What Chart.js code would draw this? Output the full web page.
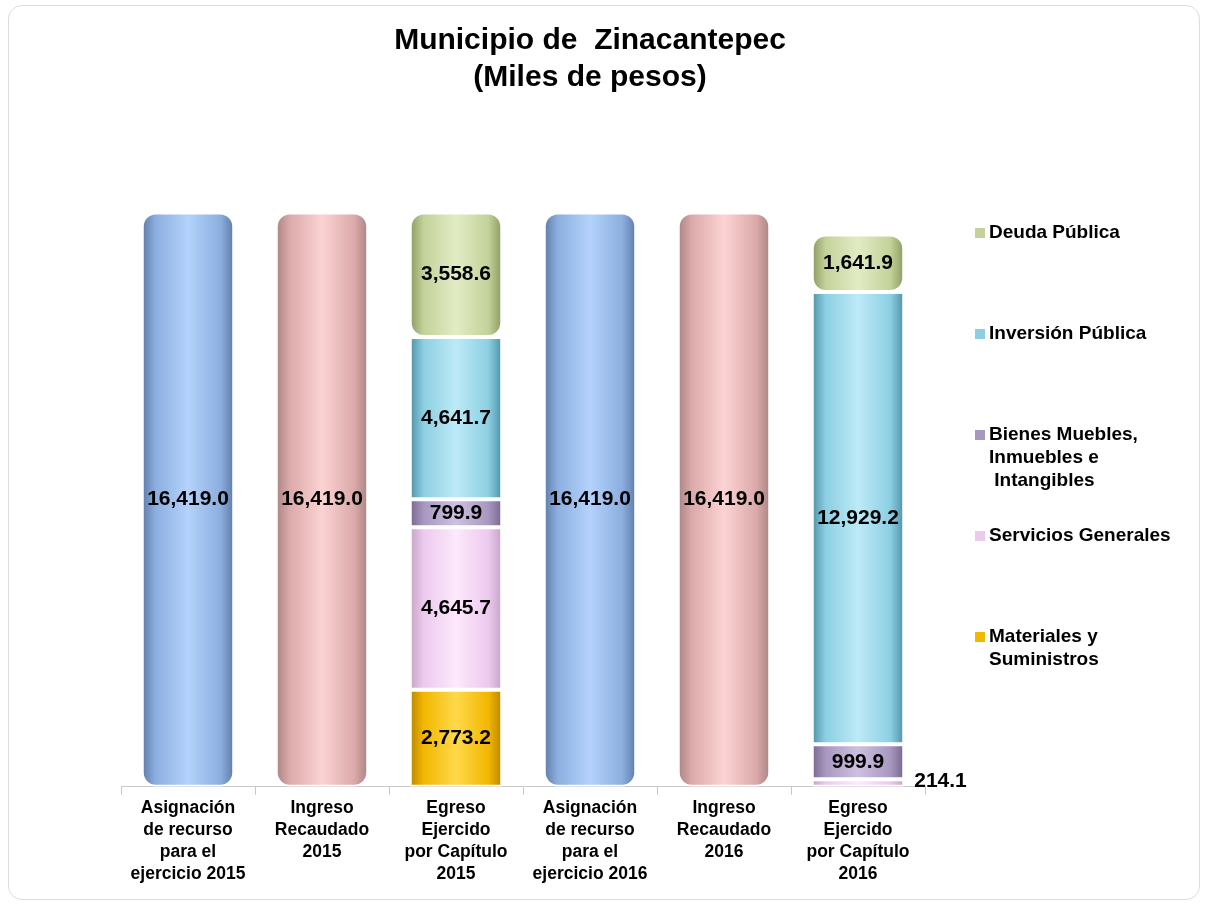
<!DOCTYPE html>
<html>
<head>
<meta charset="utf-8">
<script src="https://cdn.jsdelivr.net/npm/chart.js@4/dist/chart.umd.min.js"></script>
<style>
  body { margin: 0; background: #fff; }
  #box {
    position: absolute; left: 8px; top: 5px;
    width: 1192px; height: 895px;
    border: 1px solid #dcdcdc; border-radius: 14px;
    box-sizing: border-box; overflow: hidden;
  }
</style>
</head>
<body>
<div id="box"><canvas id="zina"></canvas></div>
<script>
const categories = [
  ['Asignación', 'de recurso', 'para el', 'ejercicio 2015'],
  ['Ingreso', 'Recaudado', '2015'],
  ['Egreso', 'Ejercido', 'por Capítulo', '2015'],
  ['Asignación', 'de recurso', 'para el', 'ejercicio 2016'],
  ['Ingreso', 'Recaudado', '2016'],
  ['Egreso', 'Ejercido', 'por Capítulo', '2016']
];

const asignacion = [16419.0, null, null, 16419.0, null, null];
const ingreso = [null, 16419.0, null, null, 16419.0, null];
const materiales = [null, null, 2773.2, null, null, 0];
const servicios = [null, null, 4645.7, null, null, 214.1];
const bienes = [null, null, 799.9, null, null, 999.9];
const inversion = [null, null, 4641.7, null, null, 12929.2];
const deuda = [null, null, 3558.6, null, null, 1641.9];

// legend entries, top to bottom
const legendLines = [
  ['Deuda Pública'],
  ['Inversión Pública'],
  ['Bienes Muebles,', 'Inmuebles e', ' Intangibles'],
  ['Servicios Generales'],
  ['Materiales y', 'Suministros']
];

const BAR_PCT = 0.69;

// horizontal gradient so the bars look like cylinders
function cyl(edge, mid, light) {
  return (ctx) => {
    const chart = ctx.chart;
    const xs = chart.scales.x;
    if (ctx.type !== 'data' || !xs || !chart.chartArea) return mid;
    const cx = xs.getPixelForValue(ctx.dataIndex);
    const w = xs.width / categories.length * BAR_PCT;
    const g = chart.ctx.createLinearGradient(cx - w / 2, 0, cx + w / 2, 0);
    g.addColorStop(0, edge);
    g.addColorStop(0.15, mid);
    g.addColorStop(0.5, light);
    g.addColorStop(0.85, mid);
    g.addColorStop(1, edge);
    return g;
  };
}

function fmt(v) {
  return v.toLocaleString('en-US', { minimumFractionDigits: 1, maximumFractionDigits: 1 });
}

const valueLabels = {
  id: 'valueLabels',
  afterDatasetsDraw(chart) {
    const c = chart.ctx;
    c.save();
    c.font = 'bold 21px "Liberation Sans", Arial, sans-serif';
    c.fillStyle = '#000';
    c.textBaseline = 'middle';
    chart.data.datasets.forEach((ds, di) => {
      const meta = chart.getDatasetMeta(di);
      meta.data.forEach((el, i) => {
        const v = ds.data[i];
        if (v == null || v === 0) return;
        const h = Math.abs(el.base - el.y);
        const y = (el.y + el.base) / 2;
        if (h < 18) {
          c.textAlign = 'left';
          c.fillText(fmt(v), el.x + el.width / 2 + 10, y - 2);
        } else {
          c.textAlign = 'center';
          c.fillText(fmt(v), el.x, y);
        }
      });
    });
    c.restore();
  }
};

const sideLegend = {
  id: 'sideLegend',
  afterDraw(chart) {
    const c = chart.ctx;
    const order = [6, 5, 4, 3, 2];
    c.save();
    c.font = 'bold 19px "Liberation Sans", Arial, sans-serif';
    c.textBaseline = 'middle';
    c.textAlign = 'left';
    legendLines.forEach((lines, k) => {
      const ds = chart.data.datasets[order[k]];
      const y0 = 227 + k * 101;
      c.fillStyle = ds.legendColor;
      c.fillRect(966, y0 - 5, 10, 10);
      c.fillStyle = '#000';
      lines.forEach((t, j) => c.fillText(t, 980, y0 + j * 23));
    });
    c.restore();
  }
};

const mk = (label, data, edge, mid, light) => ({
  label, data,
  backgroundColor: cyl(edge, mid, light),
  legendColor: mid,
  borderColor: '#ffffff',
  borderWidth: 2,
  borderSkipped: false,
  borderRadius: 14,
  stack: 'a'
});

try {
  new Chart(document.getElementById('zina'), {
    type: 'bar',
    data: {
      labels: categories,
      datasets: [
        mk('Asignación', asignacion, '#5d7aa6', '#8cafe0', '#b4d2fb'),
        mk('Ingreso', ingreso, '#a98383', '#dba9a9', '#fcd3d3'),
        mk('Materiales y Suministros', materiales, '#b88400', '#f2b800', '#ffd84a'),
        mk('Servicios Generales', servicios, '#c4a3c6', '#ecc9ee', '#fde9fd'),
        mk('Bienes Muebles, Inmuebles e Intangibles', bienes, '#76668e', '#a898c0', '#cdc0e0'),
        mk('Inversión Pública', inversion, '#4e8fa5', '#8ccfe2', '#bdeaf7'),
        mk('Deuda Pública', deuda, '#8a9a5e', '#c3d29a', '#e2ecc4')
      ]
    },
    options: {
      responsive: true,
      maintainAspectRatio: false,
      animation: false,
      categoryPercentage: 1,
      barPercentage: BAR_PCT,
      layout: { padding: { left: 0, right: 28, top: 0, bottom: 12 } },
      plugins: {
        legend: { display: false },
        tooltip: { enabled: false },
        title: {
          display: true,
          text: ['Municipio de  Zinacantepec', '(Miles de pesos)'],
          color: '#000',
          font: { family: '"Liberation Sans", Arial, sans-serif', size: 30, weight: 'bold', lineHeight: 1.24 },
          padding: { top: 16, bottom: 116 }
        }
      },
      scales: {
        x: {
          stacked: true,
          grid: { drawOnChartArea: false, tickLength: 8, color: '#c8c8c8' },
          border: { color: '#c8c8c8' },
          ticks: {
            color: '#000',
            padding: 2,
            maxRotation: 0,
            autoSkip: false,
            font: { family: '"Liberation Sans", Arial, sans-serif', size: 17.5, weight: 'bold', lineHeight: 1.26 }
          }
        },
        y: {
          stacked: true,
          min: 0,
          max: 16419,
          ticks: { display: false },
          grid: { display: false },
          border: { display: false },
          afterFit: (s) => { s.width = 112; }
        },
        side: {
          type: 'linear',
          position: 'right',
          ticks: { display: false },
          grid: { display: false },
          border: { display: false },
          afterFit: (s) => { s.width = 246; }
        }
      }
    },
    plugins: [valueLabels, sideLegend]
  });
} catch (error) {
  console.log(error);
}
</script>
</body>
</html>
